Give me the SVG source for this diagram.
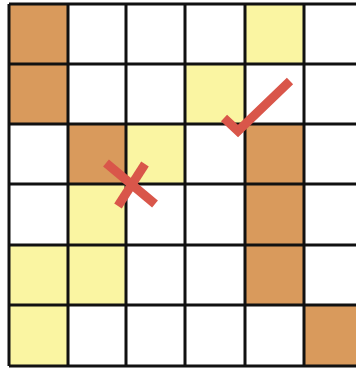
<svg xmlns="http://www.w3.org/2000/svg" width="356" height="368" viewBox="0 0 356 368">
<style>
.o{fill:#D99A5C}
.y{fill:#FAF5A2}
.g{stroke:#111;stroke-width:3;fill:none}
.m{stroke:#D9564A;stroke-width:9;fill:none;stroke-linecap:butt;stroke-linejoin:miter}
</style>
<rect width="356" height="368" fill="#fff"/>
<g id="cells">
<rect class="o" x="9" y="4" width="59" height="60"/>
<rect class="y" x="245" y="4" width="59" height="60"/>
<rect class="o" x="9" y="64" width="59" height="60"/>
<rect class="y" x="185" y="64" width="60" height="60"/>
<rect class="o" x="68" y="124" width="58" height="60"/>
<rect class="y" x="126" y="124" width="59" height="60"/>
<rect class="o" x="245" y="124" width="59" height="60"/>
<rect class="y" x="68" y="184" width="58" height="61"/>
<rect class="o" x="245" y="184" width="59" height="61"/>
<rect class="y" x="9" y="245" width="59" height="60"/>
<rect class="y" x="68" y="245" width="58" height="60"/>
<rect class="o" x="245" y="245" width="59" height="60"/>
<rect class="y" x="9" y="305" width="59" height="61"/>
<rect class="o" x="304" y="305" width="59" height="61"/>
</g>
<g id="grid" class="g">
<path d="M9 4V366M68 4V366M126 4V366M185 4V366M245 4V366M304 4V366"/>
<path d="M9 4H356M9 64H356M9 124H356M9 184H356M9 245H356M9 305H356M9 366H356"/>
</g>
<g id="cross" class="m">
<path d="M106 163L155 204"/>
<path d="M145 164L118 206"/>
</g>
<g id="check" class="m">
<path d="M224 118L238 131L290 81"/>
</g>
</svg>
